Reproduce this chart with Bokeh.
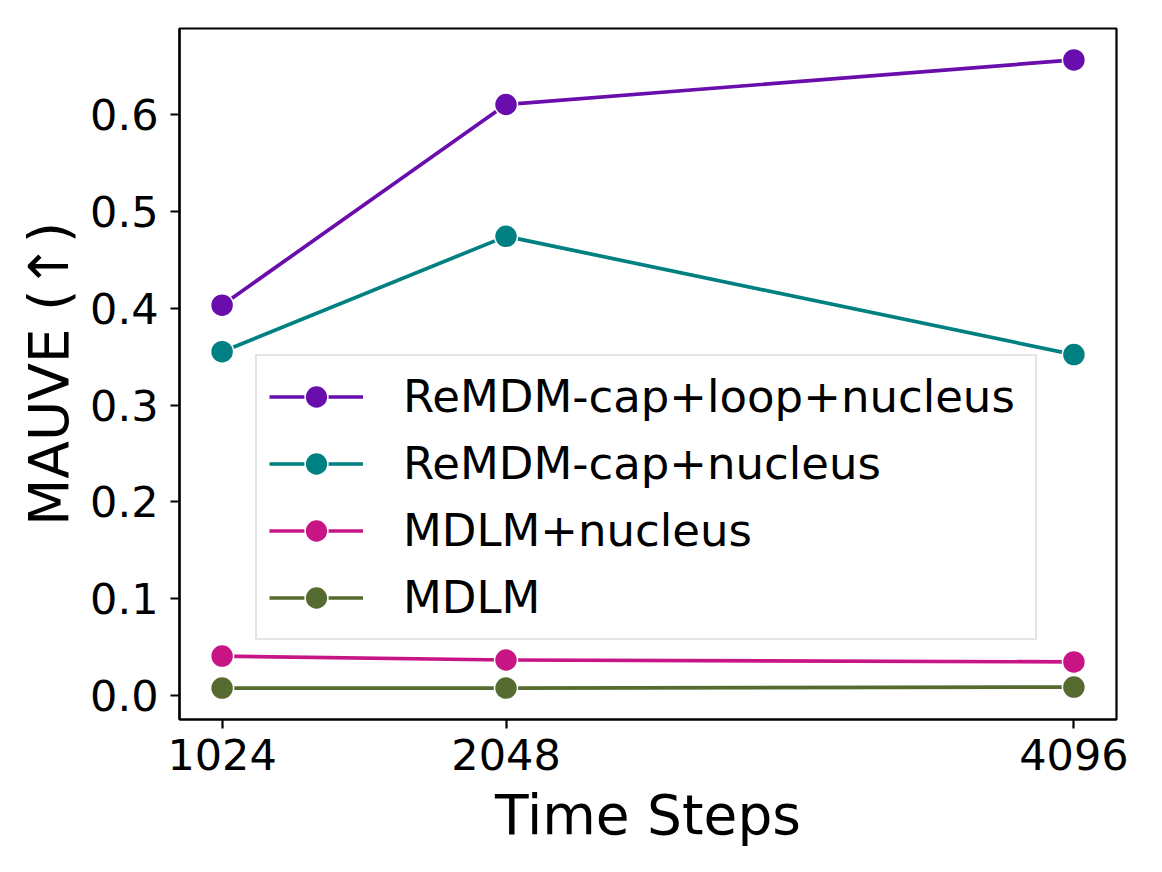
from bokeh.plotting import figure
from bokeh.models import Range1d, FixedTicker, NumeralTickFormatter, Legend, LegendItem
from bokeh.embed import file_html
from bokeh.resources import INLINE

steps = [1024, 2048, 4096]
names = ["ReMDM-cap+loop+nucleus", "ReMDM-cap+nucleus", "MDLM+nucleus", "MDLM"]
remdm_loop = [0.403, 0.610, 0.656]
remdm_cap = [0.355, 0.474, 0.352]
mdlm_nucleus = [0.041, 0.037, 0.035]
mdlm = [0.008, 0.008, 0.009]
series = [remdm_loop, remdm_cap, mdlm_nucleus, mdlm]
colors = ["#6A0DAD", "#008080", "#C71585", "#556B2F"]
y_ticks = [0.0, 0.1, 0.2, 0.3, 0.4, 0.5, 0.6]

FONT = "DejaVu Sans"

p = figure(width=1146, height=856, output_backend="svg", toolbar_location=None,
           x_range=Range1d(870.4, 4249.6), y_range=Range1d(-0.0244, 0.6884),
           min_border_left=179, min_border_right=30, min_border_top=28, min_border_bottom=137)

p.xgrid.visible = False
p.ygrid.visible = False
p.outline_line_color = "black"
p.outline_line_width = 2.2
p.outline_line_alpha = 1.0

items = []
for name, vals, col in zip(names, series, colors):
    r1 = p.line(steps, vals, line_color=col, line_width=3.7)
    r2 = p.scatter(steps, vals, size=23, fill_color=col, line_color="white", line_width=1.5)
    items.append(LegendItem(label=name, renderers=[r1, r2]))

for ax in (p.xaxis[0], p.yaxis[0]):
    ax.axis_line_width = 2.2
    ax.major_tick_line_width = 2.2
    ax.major_tick_out = 9
    ax.major_tick_in = 0
    ax.minor_tick_line_color = None
    ax.major_label_text_font = FONT
    ax.major_label_text_font_size = "43px"
    ax.major_label_text_color = "black"
    ax.axis_label_text_font = FONT
    ax.axis_label_text_font_size = "55px"
    ax.axis_label_text_font_style = "normal"
    ax.axis_label_text_color = "black"

p.xaxis.ticker = FixedTicker(ticks=steps)
p.yaxis.ticker = FixedTicker(ticks=y_ticks)
p.yaxis.formatter = NumeralTickFormatter(format="0.0")
p.xaxis.axis_label = "Time Steps"
p.yaxis.axis_label = "MAUVE (↑)"
p.xaxis.major_label_standoff = 10
p.yaxis.major_label_standoff = 12
p.xaxis.axis_label_standoff = 10
p.yaxis.axis_label_standoff = 6

legend = Legend(items=items, location=(76, 79), margin=0, padding=12,
                glyph_width=94, glyph_height=57, spacing=10, label_standoff=40,
                label_width=620,
                label_text_font=FONT, label_text_font_size="45px",
                label_text_color="black",
                border_line_color="#cccccc", border_line_width=2,
                background_fill_alpha=0.8)
p.add_layout(legend, "center")

open("out.html", "w").write(file_html(p, INLINE))
